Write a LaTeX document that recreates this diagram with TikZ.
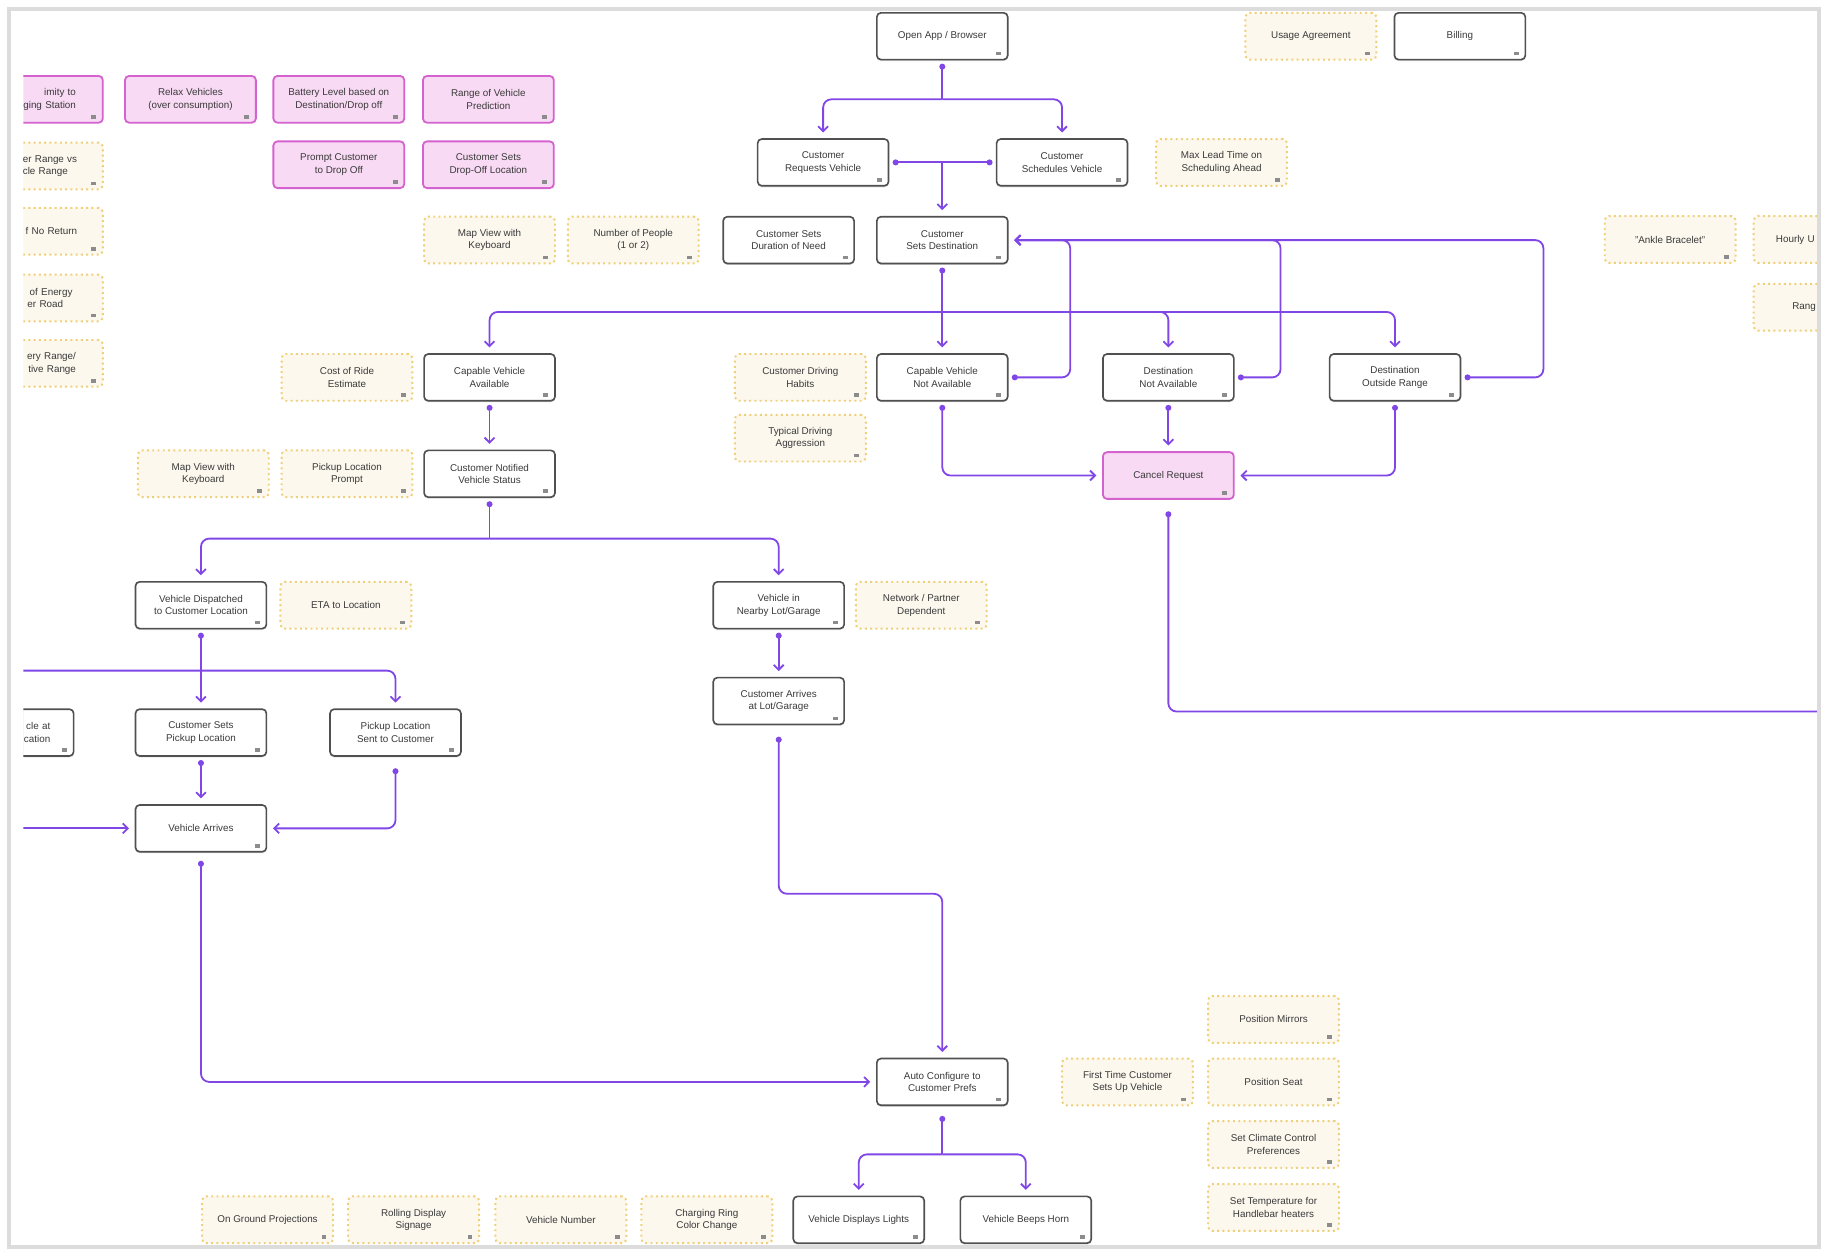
\documentclass[tikz,border=0pt]{standalone}
\usepackage{fontspec}
\setmainfont{Liberation Sans}
\usepackage{tikz}
\usetikzlibrary{positioning, arrows.meta, calc, shadows}
\definecolor{flowPurple}{HTML}{8047E6}
\definecolor{boxGray}{HTML}{505050}
\definecolor{pinkEdge}{HTML}{D462CF}
\definecolor{pinkFill}{HTML}{F8DAF4}
\definecolor{noteEdge}{HTML}{EFCF78}
\definecolor{noteFill}{HTML}{FCF8EE}
\definecolor{frameGray}{HTML}{DCDCDC}
\definecolor{labelText}{HTML}{3A3A3A}
\definecolor{tagGray}{HTML}{8C8C8C}

\begin{document}
\begin{tikzpicture}[x=0.025cm, y=-0.025cm,
    cardbox/.style={fill=white, rounded corners=2.5pt, minimum width=2.8cm,
      minimum height=1cm, inner sep=1pt, align=center, text=labelText,
      font=\fontsize{6}{7.6}\selectfont,
      path picture={\fill[tagGray, sharp corners, solid]
        ([xshift=-7pt, yshift=2.5pt]path picture bounding box.south east) rectangle ++(3pt, 2.2pt);}},
    stepbox/.style={cardbox, draw=boxGray, line width=1pt,
      drop shadow={shadow xshift=0pt, shadow yshift=-0.9pt, opacity=0.3}},
    pinkbox/.style={cardbox, draw=pinkEdge, fill=pinkFill, line width=1.1pt},
    notebox/.style={cardbox, draw=noteEdge, fill=noteFill, dotted, line width=1.2pt},
    flowline/.style={draw=flowPurple, line width=1.1pt, rounded corners=5pt},
    flow/.style={flowline, {Circle[length=3.6pt]}-{Straight Barb[length=3pt, width=6pt]},
      shorten <=2pt, shorten >=3.5pt},
    flowend/.style={flowline, -{Straight Barb[length=3pt, width=6pt]}, shorten >=3.5pt},
    flowdot/.style={flowline, {Circle[length=3.6pt]}-, shorten <=2pt},
    flowdots/.style={flowline, {Circle[length=3.6pt]}-{Circle[length=3.6pt]},
      shorten <=2pt, shorten >=2pt}]
  \useasboundingbox (0,0) rectangle (1568,1077);

  \begin{scope}
    \clip (20,10) rectangle (1555,1065);

    % top: entry and account
    \node[stepbox] (open) at (806.5,31) {Open App / Browser};
    \node[notebox] (usage) at (1122,31) {Usage Agreement};
    \node[stepbox] (billing) at (1249.5,31) {Billing};

    % left: range / charging ideas
    \node[pinkbox, text width=1.65cm, align=right] (proximity) at (32,85) {imity to\hspace*{0.25cm}\\ging Station};
    \node[pinkbox] (relax) at (163,85) {Relax Vehicles\\(over consumption)};
    \node[pinkbox] (battery) at (290,85) {Battery Level based on\\Destination/Drop off};
    \node[pinkbox] (rangepred) at (418,85) {Range of Vehicle\\Prediction};
    \node[pinkbox] (prompt) at (290,141) {Prompt Customer\\to Drop Off};
    \node[pinkbox] (dropoff) at (418,141) {Customer Sets\\Drop-Off Location};
    \node[notebox, text width=1.7cm, align=right] (custrange) at (32,142) {ner Range vs\\cle Range\hspace*{0.2cm}};
    \node[notebox, text width=1.7cm, align=right] (noreturn) at (32,198) {f No Return};
    \node[notebox, text width=1.5cm, align=right] (energy) at (32,255) {of Energy\\er Road\hspace*{0.2cm}};
    \node[notebox, text width=1.65cm, align=right] (battrange) at (32,311) {ery Range/\\tive Range};

    % request / schedule
    \node[stepbox] (req) at (704.5,139) {Customer\\Requests Vehicle};
    \node[stepbox] (sched) at (909,139) {Customer\\Schedules Vehicle};
    \node[notebox] (leadtime) at (1045.5,139) {Max Lead Time on\\Scheduling Ahead};
    \node[notebox] (mapview) at (419,205.5) {Map View with\\Keyboard};
    \node[notebox] (people) at (542,205.5) {Number of People\\(1 or 2)};
    \node[stepbox] (duration) at (675,205.5) {Customer Sets\\Duration of Need};
    \node[stepbox] (dest) at (806.5,205.5) {Customer\\Sets Destination};
    \node[notebox] (ankle) at (1429.5,205) {"Ankle Bracelet"};
    \node[notebox, text width=1.85cm, align=left] (hourly) at (1557,205) {Hourly U};
    \node[notebox, text width=1.15cm, align=left] (rang) at (1557,263) {Rang};

    % availability checks
    \node[notebox] (costride) at (297,323) {Cost of Ride\\Estimate};
    \node[stepbox] (capavail) at (419,323) {Capable Vehicle\\Available};
    \node[notebox] (habits) at (685,323) {Customer Driving\\Habits};
    \node[stepbox] (capnot) at (806.5,323) {Capable Vehicle\\Not Available};
    \node[stepbox] (destnot) at (1000,323) {Destination\\Not Available};
    \node[stepbox] (destout) at (1194,323) {Destination\\Outside Range};
    \node[notebox] (aggression) at (685,375) {Typical Driving\\Aggression};
    \node[pinkbox] (cancel) at (1000,407) {Cancel Request};

    % pickup
    \node[notebox] (mapview2) at (174,405.5) {Map View with\\Keyboard};
    \node[notebox] (pickprompt) at (297,405.5) {Pickup Location\\Prompt};
    \node[stepbox] (notified) at (419,405.5) {Customer Notified\\Vehicle Status};
    \node[stepbox] (dispatched) at (172,518) {Vehicle Dispatched\\to Customer Location};
    \node[notebox] (eta) at (296,518) {ETA to Location};
    \node[stepbox] (nearby) at (666.5,518) {Vehicle in\\Nearby Lot/Garage};
    \node[notebox] (network) at (788.5,518) {Network / Partner\\Dependent};
    \node[stepbox] (arrives) at (666.5,600) {Customer Arrives\\at Lot/Garage};
    \node[stepbox, text width=1.8cm, align=right] (vehat) at (7,627) {cle at\\cation};
    \node[stepbox] (setspickup) at (172,627) {Customer Sets\\Pickup Location};
    \node[stepbox] (pickupsent) at (338.5,627) {Pickup Location\\Sent to Customer};
    \node[stepbox] (vehArr) at (172,709) {Vehicle Arrives};

    % in the vehicle
    \node[notebox] (mirrors) at (1090,872.5) {Position Mirrors};
    \node[notebox] (seat) at (1090,926) {Position Seat};
    \node[notebox] (climate) at (1090,979.5) {Set Climate Control\\Preferences};
    \node[notebox] (handlebar) at (1090,1033.5) {Set Temperature for\\Handlebar heaters};
    \node[notebox] (firsttime) at (965,926) {First Time Customer\\Sets Up Vehicle};
    \node[stepbox] (autoconf) at (806.5,926) {Auto Configure to\\Customer Prefs};
    \node[notebox] (projections) at (229,1044) {On Ground Projections};
    \node[notebox] (rolling) at (354,1044) {Rolling Display\\Signage};
    \node[notebox] (vehnum) at (480,1044) {Vehicle Number};
    \node[notebox] (chargering) at (605,1044) {Charging Ring\\Color Change};
    \node[stepbox] (lights) at (735,1044) {Vehicle Displays Lights};
    \node[stepbox] (horn) at (878,1044) {Vehicle Beeps Horn};

    % junctions and free ends
    \coordinate (jOpen) at (806.5,85);
    \coordinate (jDest) at (806.5,267);
    \coordinate (loopA) at (916,205.5);
    \coordinate (loopB) at (1096,205.5);
    \coordinate (loopC) at (1321,205.5);
    \coordinate (jNot) at (419,461);
    \coordinate (entryA) at (0,574);
    \coordinate (entryB) at (0,709);
    \coordinate (exitR) at (1600,609);
    \coordinate (jArr) at (806.5,765);
    \coordinate (jAuto) at (806.5,988);

    % connectors
    \draw[flowdot] (open.south) -- (jOpen);
    \draw[flowend] (jOpen) -| (req.north);
    \draw[flowend] (jOpen) -| (sched.north);
    \draw[flowdots] (req.east) -- (sched.west);
    \draw[flowend] (req.east -| dest.north) -- (dest.north);

    \draw[flow] (dest.south) -- (capnot.north);
    \draw[flowend] (jDest) -| (capavail.north);
    \draw[flowend] (jDest) -| (destnot.north);
    \draw[flowend] (jDest) -| (destout.north);

    \draw[flow] (capnot.east) -| (loopA) -- (dest.east);
    \draw[flow] (destnot.east) -| (loopB) -- (dest.east);
    \draw[flow] (destout.east) -| (loopC) -- (dest.east);

    \draw[flow] (capnot.south) |- (cancel.west);
    \draw[flow] (destnot.south) -- (cancel.north);
    \draw[flow] (destout.south) |- (cancel.east);
    \draw[flowdot, shorten <=7pt] (cancel.south) |- (exitR);

    \draw[flow] (capavail.south) -- (notified.north);
    \draw[flowdot] (notified.south) -- (jNot);
    \draw[flowend] (jNot) -| (dispatched.north);
    \draw[flowend] (jNot) -| (nearby.north);

    \draw[flow] (dispatched.south) -- (setspickup.north);
    \draw[flowend] (entryA) -| (pickupsent.north);
    \draw[flow] (setspickup.south) -- (vehArr.north);
    \draw[flow, shorten <=7pt] (pickupsent.south) |- (vehArr.east);
    \draw[flowend] (entryB) -- (vehArr.west);
    \draw[flow, shorten <=5pt] (vehArr.south) |- (autoconf.west);

    \draw[flow] (nearby.south) -- (arrives.north);
    \draw[flow, shorten <=7pt] (arrives.south) |- (jArr) -- (autoconf.north);

    \draw[flowdot, shorten <=6pt] (autoconf.south) -- (jAuto);
    \draw[flowend] (jAuto) -| (lights.north);
    \draw[flowend] (jAuto) -| (horn.north);
  \end{scope}

  % screenshot frame
  \draw[frameGray, line width=2.5pt] (8,8) rectangle (1557,1067);
\end{tikzpicture}
\end{document}
